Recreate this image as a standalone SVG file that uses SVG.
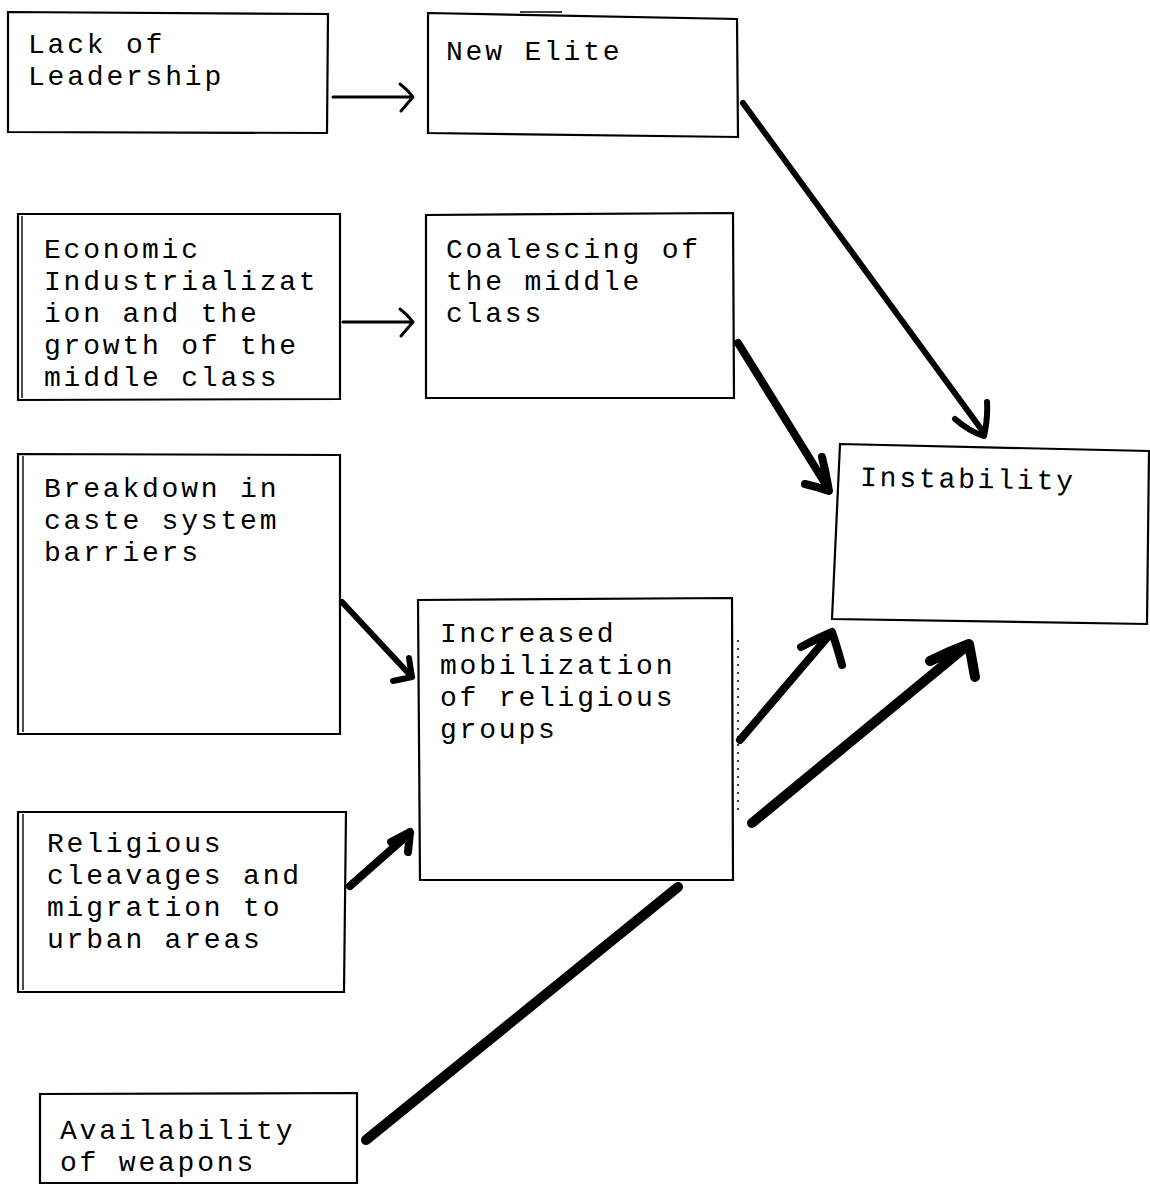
<svg xmlns="http://www.w3.org/2000/svg" width="1150" height="1186" viewBox="0 0 1150 1186">
<style>
.box{fill:none;stroke:#000;stroke-width:2.2}
.inner{fill:none;stroke:#000;stroke-width:1.4}
.t{font-family:"Liberation Mono","Courier New",monospace;font-size:28px;letter-spacing:2.8px;fill:#000}
.thin{fill:none;stroke:#000;stroke-width:3;stroke-linecap:round;stroke-linejoin:round}
.c5{fill:none;stroke:#000;stroke-width:6;stroke-linecap:round;stroke-linejoin:round}
.c8{fill:none;stroke:#000;stroke-width:8;stroke-linecap:round;stroke-linejoin:round}
.c10{fill:none;stroke:#000;stroke-width:10;stroke-linecap:round;stroke-linejoin:round}
.dot{fill:none;stroke:#000;stroke-width:1.5;stroke-dasharray:2 6}
</style>
<rect width="1150" height="1186" fill="#fff"/>

<g id="lack-of-leadership">
<polygon class="box" points="8,12 328,14 327,133 8,132"/>
<text class="t" x="28" y="53">Lack of</text>
<text class="t" x="28" y="85">Leadership</text>
</g>

<g id="new-elite">
<polygon class="box" points="428,13 737,19 738,137 428,133"/>
<path d="M520,12 L562,12" class="inner"/>
<text class="t" x="446" y="60">New Elite</text>
</g>

<g id="economic-industrialization">
<polygon class="box" points="18,214 340,214 340,399 18,400"/>
<line class="inner" x1="22" y1="216" x2="22" y2="398"/>
<text class="t" x="44" y="258">Economic</text>
<text class="t" x="44" y="290">Industrializat</text>
<text class="t" x="44" y="322">ion and the</text>
<text class="t" x="44" y="354">growth of the</text>
<text class="t" x="44" y="386">middle class</text>
</g>

<g id="coalescing-middle-class">
<polygon class="box" points="426,215 733,213 734,398 426,398"/>
<text class="t" x="446" y="258">Coalescing of</text>
<text class="t" x="446" y="290">the middle</text>
<text class="t" x="446" y="322">class</text>
</g>

<g id="instability">
<polygon class="box" points="840,444 1149,451 1147,624 832,619"/>
<text class="t" x="860" y="486" transform="rotate(1 860 486)">Instability</text>
</g>

<g id="breakdown-caste">
<polygon class="box" points="18,454 340,455 340,734 18,734"/>
<line class="inner" x1="23" y1="456" x2="23" y2="732"/>
<text class="t" x="44" y="497">Breakdown in</text>
<text class="t" x="44" y="529">caste system</text>
<text class="t" x="44" y="561">barriers</text>
</g>

<g id="increased-mobilization">
<polygon class="box" points="418,600 732,598 733,880 420,880"/>
<text class="t" x="440" y="642">Increased</text>
<text class="t" x="440" y="674">mobilization</text>
<text class="t" x="440" y="706">of religious</text>
<text class="t" x="440" y="738">groups</text>
</g>

<g id="religious-cleavages">
<polygon class="box" points="18,812 346,812 344,992 18,992"/>
<line class="inner" x1="23" y1="814" x2="23" y2="990"/>
<text class="t" x="47" y="852">Religious</text>
<text class="t" x="47" y="884">cleavages and</text>
<text class="t" x="47" y="916">migration to</text>
<text class="t" x="47" y="948">urban areas</text>
</g>

<g id="availability-weapons">
<polygon class="box" points="40,1094 357,1093 357,1183 40,1183"/>
<text class="t" x="60" y="1139">Availability</text>
<text class="t" x="60" y="1171">of weapons</text>
</g>

<g id="connectors">
<path class="thin" d="M333,97 L412,97 M400,84 Q408,90 413,97 Q407,104 401,111"/>
<path class="thin" d="M343,322 L412,322 M400,309 Q408,315 413,322 Q407,329 401,336"/>
<path class="c5" d="M743,103 L984,433 M955,419 Q970,432 984,436 Q988,418 987,402"/>
<path class="c8" d="M738,343 L828,488 M805,484 Q818,487 829,491 Q826,473 822,457"/>
<path class="c5" d="M342,602 L412,677 M393,681 L412,677 L409,658"/>
<path class="c8" d="M350,886 L410,833 M391,842 L410,832 L408,852"/>
<path class="c8" d="M740,740 L832,632 M801,647 Q818,638 832,632 Q838,650 842,665"/>
<path class="c10" d="M752,823 L968,645 M930,661 Q950,651 969,644 Q972,660 975,677"/>
<path class="c10" d="M366,1140 L678,887"/>
<line class="dot" x1="738" y1="640" x2="738" y2="810"/>
</g>
</svg>
